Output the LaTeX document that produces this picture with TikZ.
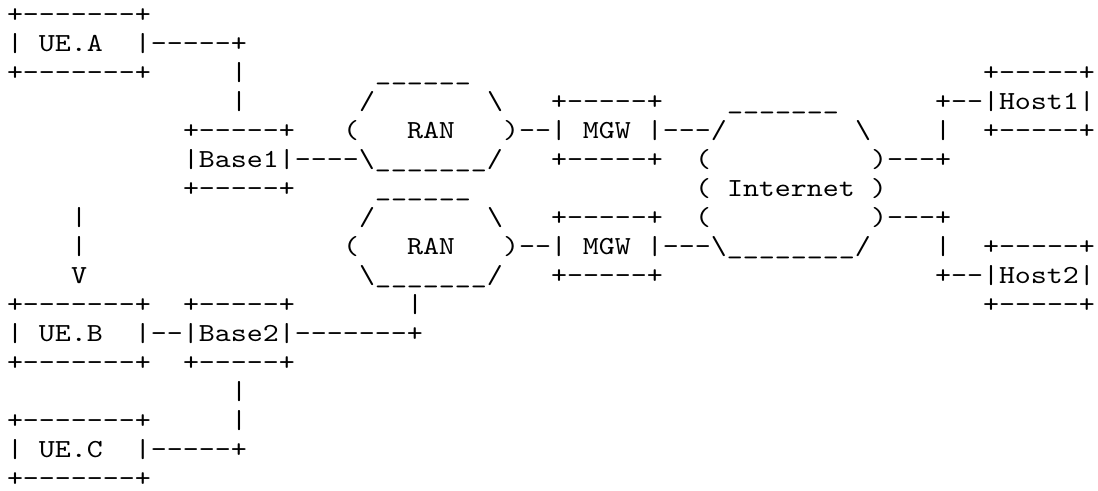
\documentclass[tikz,border=0pt]{standalone}
\usepackage{fontspec}
\usetikzlibrary{positioning}

% typewriter face for the character drawing, widened to the 8pt column
\newfontfamily\asciifont{lmmono10-regular.otf}[FakeStretch=1.172, Ligatures=TeXOff]
\newcommand\bs{\textbackslash}

\begin{document}
\begin{tikzpicture}[
  x=8pt, y=-14.5pt,
  txt/.style={font=\asciifont\fontsize{13pt}{14.5pt}\selectfont, anchor=base west, inner sep=0pt, outer sep=0pt, text=black}
]
\useasboundingbox (-3.5pt,11.25pt) rectangle (545.5pt,-234.25pt);

% UE.A and its line down to Base1
\node[txt] (ueAtop) at (0,0) {+-------+};
\node[txt] (ueA) at (0,1) {|~UE.A~~|-----+};
\node[txt] (ueAbot) at (0,2) {+-------+};
\node[txt] (ueAlinkA) at (14,2) {|};
\node[txt] (ueAlinkB) at (14,3) {|};

% Base1
\node[txt] (base1top) at (11,4) {+-----+};
\node[txt] (base1) at (11,5) {|Base1|----\bs\_\_\_\_\_\_\_/};
\node[txt] (base1bot) at (11,6) {+-----+};

% upper RAN
\node[txt] (ran1top) at (23,2) {\_\_\_\_\_\_};
\node[txt] (ran1l) at (22,3) {/};
\node[txt] (ran1r) at (30,3) {\bs};
\node[txt] (ran1open) at (21,4) {(};
\node[txt] (ran1) at (25,4) {RAN};

% upper MGW
\node[txt] (mgw1top) at (34,3) {+-----+};
\node[txt] (mgw1) at (31,4) {)--|~MGW~|---/};
\node[txt] (mgw1bot) at (34,5) {+-----+};

% Internet cloud
\node[txt] (inettop) at (45,3) {\_\_\_\_\_\_\_};
\node[txt] (inetr) at (53,4) {\bs};
\node[txt] (inetA) at (43,5) {(};
\node[txt] (inetlinkA) at (54,5) {)---+};
\node[txt] (inet) at (43,6) {(~Internet~)};
\node[txt] (inetB) at (43,7) {(};
\node[txt] (inetlinkB) at (54,7) {)---+};

% Host1
\node[txt] (host1top) at (61,2) {+-----+};
\node[txt] (host1) at (58,3) {+--|Host1|};
\node[txt] (host1link) at (58,4) {|};
\node[txt] (host1bot) at (61,4) {+-----+};

% lower RAN
\node[txt] (ran2top) at (23,6) {\_\_\_\_\_\_};
\node[txt] (ran2l) at (22,7) {/};
\node[txt] (ran2r) at (30,7) {\bs};
\node[txt] (ran2open) at (21,8) {(};
\node[txt] (ran2) at (25,8) {RAN};
\node[txt] (ran2bot) at (22,9) {\bs\_\_\_\_\_\_\_/};
\node[txt] (ran2link) at (25,10) {|};

% lower MGW
\node[txt] (mgw2top) at (34,7) {+-----+};
\node[txt] (mgw2) at (31,8) {)--|~MGW~|---\bs\_\_\_\_\_\_\_\_/};
\node[txt] (mgw2bot) at (34,9) {+-----+};

% Host2
\node[txt] (host2link) at (58,8) {|};
\node[txt] (host2top) at (61,8) {+-----+};
\node[txt] (host2) at (58,9) {+--|Host2|};
\node[txt] (host2bot) at (61,10) {+-----+};

% move arrow
\node[txt] (moveA) at (4,7) {|};
\node[txt] (moveB) at (4,8) {|};
\node[txt] (move) at (4,9) {V};

% UE.B and Base2
\node[txt] (ueBtop) at (0,10) {+-------+};
\node[txt] (base2top) at (11,10) {+-----+};
\node[txt] (ueB) at (0,11) {|~UE.B~~|--|Base2|-------+};
\node[txt] (ueBbot) at (0,12) {+-------+};
\node[txt] (base2bot) at (11,12) {+-----+};

% UE.C
\node[txt] (ueClinkA) at (14,13) {|};
\node[txt] (ueCtop) at (0,14) {+-------+};
\node[txt] (ueClinkB) at (14,14) {|};
\node[txt] (ueC) at (0,15) {|~UE.C~~|-----+};
\node[txt] (ueCbot) at (0,16) {+-------+};

\end{tikzpicture}
\end{document}
